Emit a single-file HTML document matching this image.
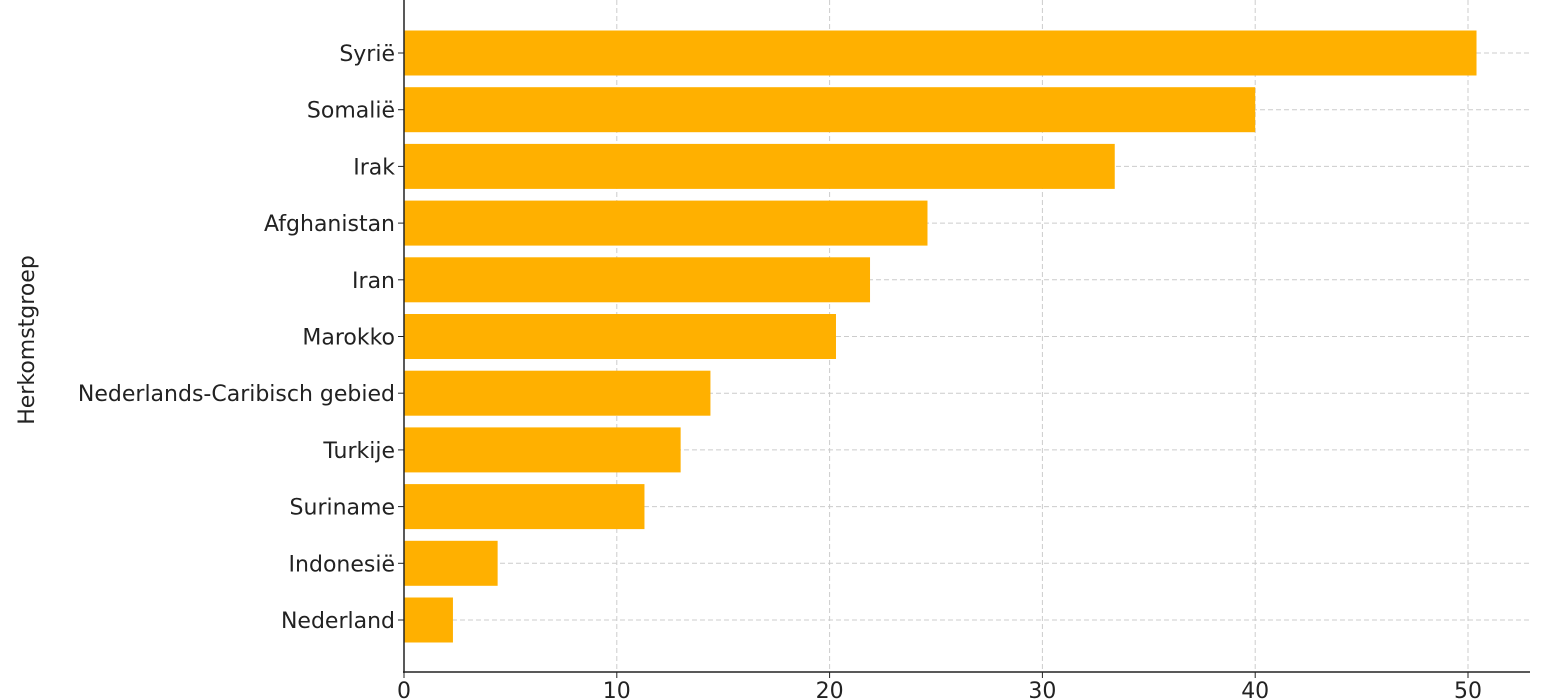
<!DOCTYPE html>
<html><head><meta charset="utf-8"><style>
body{margin:0;background:#fff;}
svg{display:block;font-family:"DejaVu Sans","Liberation Sans",sans-serif;}
</style></head><body>
<svg id="chart" width="1544" height="700">
<g id="grid"></g>
<g id="bars"></g>
<g id="yticks"></g>
<g id="xticks"></g>
<line x1="404" y1="0" x2="404" y2="673" stroke="#222" stroke-width="1.5"/>
<line x1="403" y1="672" x2="1530" y2="672" stroke="#222" stroke-width="1.5"/>
<text transform="translate(34,340) rotate(-90)" text-anchor="middle" font-size="22" fill="#222">Herkomstgroep</text>
</svg>
<script>
const categories=["Syrië","Somalië","Irak","Afghanistan","Iran","Marokko","Nederlands-Caribisch gebied","Turkije","Suriname","Indonesië","Nederland"];
const values=[50.4,40.0,33.4,24.6,21.9,20.3,14.4,13.0,11.3,4.4,2.3];
const xTicks=[0,10,20,30,40,50];
const NS="http://www.w3.org/2000/svg";
const x0=404,pxPerUnit=21.28;
const xs=v=>x0+v*pxPerUnit;
const yTop=53,step=56.7,bh=45;
const ys=i=>yTop+i*step;
function mk(tag,attrs,parent){const e=document.createElementNS(NS,tag);for(const k in attrs)e.setAttribute(k,attrs[k]);parent.appendChild(e);return e;}
const grid=document.getElementById('grid'),bars=document.getElementById('bars'),yt=document.getElementById('yticks'),xt=document.getElementById('xticks');
xTicks.forEach(t=>{
 const g=mk('line',{x1:xs(t),x2:xs(t),y1:0,y2:672,stroke:'#ccc','stroke-dasharray':'5,3'},grid);
 
 
 const tk=mk('line',{x1:xs(t),x2:xs(t),y1:672,y2:678,stroke:'#222'},xt);
 
 
 const tl=mk('text',{x:xs(t),y:698,'text-anchor':'middle','font-size':22,fill:'#222'},xt);
 tl.textContent=t;
 
 
});
categories.forEach((c,i)=>{
 const y=ys(i);
 const gl=mk('line',{x1:404,x2:1530,y1:y,y2:y,stroke:'#ccc','stroke-dasharray':'5,3'},grid);
 
 
 const r=mk('rect',{x:xs(0),y:y-bh/2,width:xs(values[i])-xs(0),height:bh,fill:'#FFB000'},bars);
 
 
 const tk=mk('line',{x1:398,x2:404,y1:y,y2:y,stroke:'#222'},yt);
 
 
 const tl=mk('text',{x:395,y:y+8,'text-anchor':'end','font-size':22,fill:'#222'},yt);
 tl.textContent=c;
 
 
});
</script>
</body></html>
